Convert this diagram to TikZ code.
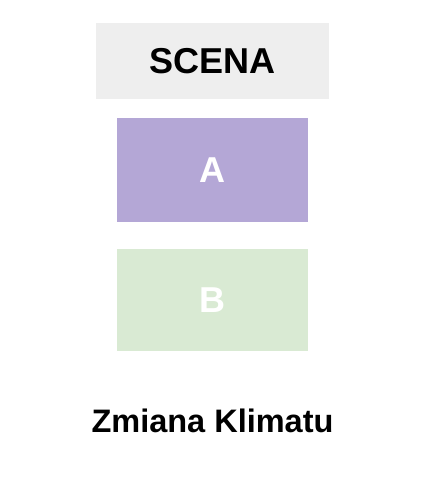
\documentclass[tikz,border=0pt]{standalone}
\usepackage{fontspec}
\setmainfont{Liberation Sans}
\definecolor{scenagray}{HTML}{EEEEEE}
\definecolor{boxA}{HTML}{B4A7D6}
\definecolor{boxB}{HTML}{D9EAD3}
\begin{document}
\begin{tikzpicture}[x=1pt,y=-1pt,
  lbl/.style={font=\fontsize{36}{40}\selectfont\bfseries,inner sep=0pt,anchor=center},
  ttl/.style={font=\fontsize{32.5}{38}\selectfont\bfseries,inner sep=0pt,anchor=center}]
\useasboundingbox (0,0) rectangle (442,485);
\fill[scenagray] (96,23) rectangle (329,99);
\fill[boxA] (117,118) rectangle (308,222);
\fill[boxB] (117,249) rectangle (308,351);
\node[lbl,text=black] (scena) at (212.5,61) {SCENA};
\node[lbl,text=white] (a) at (212.5,170) {A};
\node[lbl,text=white] (b) at (212.5,300) {B};
\node[ttl,text=black] (title) at (212.5,421) {Zmiana Klimatu};
\end{tikzpicture}
\end{document}
